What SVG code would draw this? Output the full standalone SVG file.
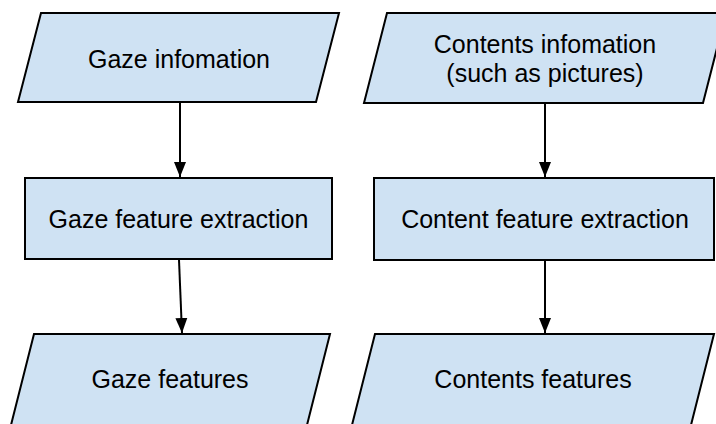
<svg xmlns="http://www.w3.org/2000/svg" width="716" height="424" viewBox="0 0 716 424">
  <defs>
    <marker id="arrow" markerUnits="userSpaceOnUse" markerWidth="16" markerHeight="14" viewBox="0 0 16 14" refX="15" refY="7" orient="auto">
      <path d="M0,1 L15,7 L0,13 Z" fill="#000"/>
    </marker>
  </defs>
  <style>
    .shape { fill: #cfe2f3; stroke: #000; stroke-width: 2; stroke-linejoin: miter; }
    .label { font-family: "Liberation Sans", Arial, sans-serif; font-size: 25px; fill: #000; text-anchor: middle; }
    .conn { stroke: #000; stroke-width: 2; fill: none; marker-end: url(#arrow); }
  </style>
  <rect width="716" height="424" fill="#fff"/>

  <g id="connectors">
    <line class="conn" x1="180" y1="102" x2="180" y2="177"/>
    <line class="conn" x1="545" y1="103" x2="545" y2="177"/>
    <line class="conn" x1="179" y1="260" x2="182" y2="333"/>
    <line class="conn" x1="545" y1="260" x2="545" y2="333"/>
  </g>

  <g id="gaze-info">
    <polygon class="shape" points="41,13 339,13 316,102 18,102"/>
    <text class="label" x="179" y="68">Gaze infomation</text>
  </g>

  <g id="contents-info">
    <polygon class="shape" points="387,13 726,13 703,103 364,103"/>
    <text class="label" x="545" y="53">Contents infomation</text>
    <text class="label" x="545" y="82">(such as pictures)</text>
  </g>

  <g id="gaze-extraction">
    <rect class="shape" x="25" y="178" width="307" height="81"/>
    <text class="label" x="178.5" y="228">Gaze feature extraction</text>
  </g>

  <g id="content-extraction">
    <rect class="shape" x="374" y="178" width="340" height="82"/>
    <text class="label" x="545" y="228">Content feature extraction</text>
  </g>

  <g id="gaze-features">
    <polygon class="shape" points="34,334 330,334 307,425 11,425"/>
    <text class="label" x="170" y="388">Gaze features</text>
  </g>

  <g id="contents-features">
    <polygon class="shape" points="375,334 714,334 691,425 352,425"/>
    <text class="label" x="533" y="388">Contents features</text>
  </g>
</svg>
